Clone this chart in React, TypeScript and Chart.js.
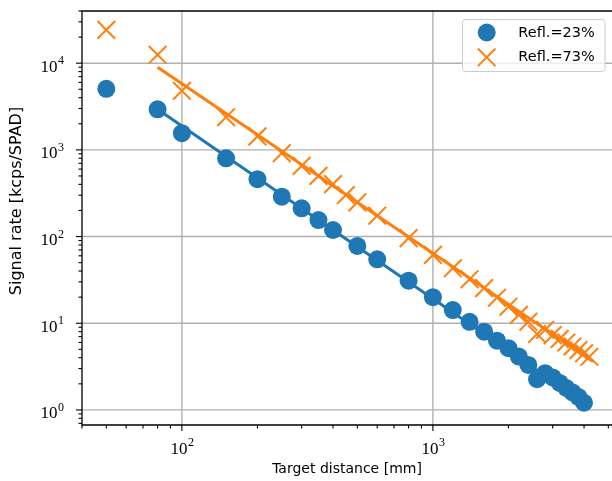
import React, { useEffect, useRef } from 'react';
import { Chart, registerables } from 'chart.js';

Chart.register(...registerables);

// ---- data ----
const blueX = [50, 80, 100, 150, 200, 250, 300, 350, 400, 500, 600, 800, 1000, 1200, 1400, 1600, 1800, 2000, 2200, 2400, 2600, 2800, 3000, 3200, 3400, 3600, 3800, 4000];
const blueY = [5060, 2940, 1560, 800, 459, 288, 212, 155, 119, 78, 54.7, 31, 20, 14.2, 10.4, 8.0, 6.3, 5.15, 4.12, 3.3, 2.26, 2.65, 2.37, 2.05, 1.79, 1.59, 1.41, 1.21];
const orangeX = [50, 80, 100, 150, 200, 250, 300, 350, 400, 450, 500, 600, 800, 1000, 1200, 1400, 1600, 1800, 2000, 2200, 2400, 2600, 2800, 3000, 3200, 3400, 3600, 3800, 4000, 4200];
const orangeY = [24200, 12500, 4800, 2380, 1430, 916, 653, 501, 403, 301, 248, 174, 96, 61.5, 43, 32.2, 25.4, 19.7, 15.5, 12.5, 10.4, 7.5, 8.4, 7.3, 6.6, 6.0, 5.4, 4.9, 4.5, 4.1];
const blueFitX = [80, 4000];
const blueFitY = [2940, 1.21];
const orangeFitX = [80, 4300];
const orangeFitY = [9000, 3.7];
const seriesLabels = ['Refl.=23%', 'Refl.=73%'];
const xTitle = 'Target distance [mm]';
const yTitle = 'Signal rate [kcps/SPAD]';
const xMajorExps = [2, 3];
const yMajorExps = [0, 1, 2, 3, 4];
const xRange = [40, 5170];
const yRange = [0.67, 40000];

const BLUE = '#1f77b4';
const ORANGE = '#ff7f0e';
const SERIF = '"Liberation Serif", "DejaVu Serif", serif';
const SANS = '"DejaVu Sans", sans-serif';

function logTicks(min: number, max: number) {
  const out: { v: number; major: boolean; e: number }[] = [];
  for (let e = Math.floor(Math.log10(min)); e <= Math.ceil(Math.log10(max)); e++) {
    for (let m = 1; m <= 9; m++) {
      const v = m * Math.pow(10, e);
      if (v >= min * 0.9999 && v <= max * 1.0001) out.push({ v, major: m === 1, e });
    }
  }
  return out;
}

const mplPlugin = {
  id: 'mplAxes',
  beforeDatasetsDraw(chart: any) {
    const { ctx, chartArea: a, scales } = chart;
    const x = scales.x, y = scales.y;
    ctx.save();
    ctx.strokeStyle = '#b0b0b0';
    ctx.lineWidth = 1.4;
    for (const e of xMajorExps) {
      const px = x.getPixelForValue(Math.pow(10, e));
      ctx.beginPath(); ctx.moveTo(px, a.top); ctx.lineTo(px, a.bottom); ctx.stroke();
    }
    for (const e of yMajorExps) {
      const py = y.getPixelForValue(Math.pow(10, e));
      ctx.beginPath(); ctx.moveTo(a.left, py); ctx.lineTo(a.right, py); ctx.stroke();
    }
    ctx.restore();
  },
  afterDraw(chart: any) {
    const { ctx, chartArea: a, scales } = chart;
    const x = scales.x, y = scales.y;
    ctx.save();
    // spines (left, top, bottom; right spine falls on the page edge)
    ctx.strokeStyle = '#000';
    ctx.lineWidth = 1.3;
    ctx.beginPath();
    ctx.moveTo(a.right + 2, a.top); ctx.lineTo(a.left, a.top); ctx.lineTo(a.left, a.bottom); ctx.lineTo(a.right + 2, a.bottom);
    ctx.stroke();
    // ticks
    ctx.lineWidth = 1.1;
    for (const t of logTicks(xRange[0], xRange[1])) {
      const px = x.getPixelForValue(t.v);
      const len = t.major ? 6 : 3.5;
      ctx.beginPath(); ctx.moveTo(px, a.bottom); ctx.lineTo(px, a.bottom + len); ctx.stroke();
    }
    for (const t of logTicks(yRange[0], yRange[1])) {
      const py = y.getPixelForValue(t.v);
      const len = t.major ? 6 : 3.5;
      ctx.beginPath(); ctx.moveTo(a.left - len, py); ctx.lineTo(a.left, py); ctx.stroke();
    }
    // tick labels 10^e
    ctx.fillStyle = '#000';
    ctx.textBaseline = 'alphabetic';
    ctx.textAlign = 'left';
    const baseFont = '17px ' + SERIF;
    const expFont = '12px ' + SERIF;
    const measure = (e: number) => {
      ctx.font = baseFont; const w1 = ctx.measureText('10').width;
      ctx.font = expFont; const w2 = ctx.measureText(String(e)).width;
      return [w1, w2];
    };
    for (const e of xMajorExps) {
      const px = x.getPixelForValue(Math.pow(10, e));
      const [w1, w2] = measure(e);
      const sx = px - (w1 + w2) / 2;
      ctx.font = baseFont; ctx.fillText('10', sx, a.bottom + 29);
      ctx.font = expFont; ctx.fillText(String(e), sx + w1 + 0.5, a.bottom + 21);
    }
    for (const e of yMajorExps) {
      const py = y.getPixelForValue(Math.pow(10, e));
      const [w1, w2] = measure(e);
      const right = a.left - 18;
      const sx = right - (w1 + w2 + 0.5);
      ctx.font = baseFont; ctx.fillText('10', sx, py + 8.5);
      ctx.font = expFont; ctx.fillText(String(e), sx + w1 + 0.5, py + 1);
    }
    // axis titles
    ctx.textAlign = 'center';
    ctx.textBaseline = 'middle';
    ctx.font = '14px ' + SANS;
    ctx.fillText(xTitle, 347, 469);
    ctx.save();
    ctx.translate(17, 201);
    ctx.rotate(-Math.PI / 2);
    ctx.font = '16px ' + SANS;
    ctx.fillText(yTitle, 0, 0);
    ctx.restore();
    // legend
    const lx = 462.5, ly = 19.5, lw = 142.5, lh = 52;
    ctx.beginPath();
    const r = 3;
    ctx.moveTo(lx + r, ly);
    ctx.arcTo(lx + lw, ly, lx + lw, ly + lh, r);
    ctx.arcTo(lx + lw, ly + lh, lx, ly + lh, r);
    ctx.arcTo(lx, ly + lh, lx, ly, r);
    ctx.arcTo(lx, ly, lx + lw, ly, r);
    ctx.closePath();
    ctx.fillStyle = 'rgba(255,255,255,0.8)';
    ctx.fill();
    ctx.strokeStyle = '#cccccc';
    ctx.lineWidth = 1;
    ctx.stroke();
    // entries
    ctx.fillStyle = BLUE;
    ctx.beginPath(); ctx.arc(486.7, 32.5, 9, 0, Math.PI * 2); ctx.fill();
    ctx.strokeStyle = ORANGE; ctx.lineWidth = 2;
    const d = 8.8;
    ctx.beginPath();
    ctx.moveTo(486.7 - d, 57.3 - d); ctx.lineTo(486.7 + d, 57.3 + d);
    ctx.moveTo(486.7 - d, 57.3 + d); ctx.lineTo(486.7 + d, 57.3 - d);
    ctx.stroke();
    ctx.fillStyle = '#000';
    ctx.textAlign = 'left';
    ctx.font = '14.5px ' + SANS;
    ctx.fillText(seriesLabels[0], 518.3, 33);
    ctx.fillText(seriesLabels[1], 518.3, 57.5);
    ctx.restore();
  },
};

export default function App() {
  const ref = useRef<HTMLCanvasElement | null>(null);
  useEffect(() => {
    if (!ref.current) return;
    const pts = (xs: number[], ys: number[]) => xs.map((v, i) => ({ x: v, y: ys[i] }));
    const chart = new Chart(ref.current, {
      type: 'scatter',
      data: {
        datasets: [
          {
            label: seriesLabels[1] + ' scatter',
            data: pts(orangeX, orangeY),
            pointStyle: 'crossRot',
            pointRadius: 12.5,
            pointHoverRadius: 12.5,
            borderColor: ORANGE,
            backgroundColor: ORANGE,
            pointBorderWidth: 2,
            showLine: false,
            order: 0,
          },
          {
            label: seriesLabels[1] + ' fit',
            data: pts(orangeFitX, orangeFitY),
            showLine: true,
            pointRadius: 0,
            borderColor: ORANGE,
            borderWidth: 3,
            order: 1,
          },
          {
            label: seriesLabels[0] + ' scatter',
            data: pts(blueX, blueY),
            pointStyle: 'circle',
            pointRadius: 9,
            pointHoverRadius: 9,
            backgroundColor: BLUE,
            borderColor: BLUE,
            pointBorderWidth: 0,
            showLine: false,
            order: 2,
          },
          {
            label: seriesLabels[0] + ' fit',
            data: pts(blueFitX, blueFitY),
            showLine: true,
            pointRadius: 0,
            borderColor: BLUE,
            borderWidth: 3,
            order: 3,
          },
        ],
      },
      options: {
        animation: false,
        responsive: false,
        devicePixelRatio: 1,
        events: [],
        clip: false,
        layout: { autoPadding: false, padding: { left: 82, top: 11, right: 0, bottom: 56 } },
        plugins: { legend: { display: false }, tooltip: { enabled: false } },
        scales: {
          x: { type: 'logarithmic', display: false, min: xRange[0], max: xRange[1] },
          y: { type: 'logarithmic', display: false, min: yRange[0], max: yRange[1] },
        },
      },
      plugins: [mplPlugin],
    } as any);
    return () => chart.destroy();
  }, []);
  return (
    <div style={{ position: 'fixed', left: 0, top: 0, width: 612, height: 481, overflow: 'hidden', background: '#fff' }}>
      <canvas ref={ref} width={612} height={481} style={{ display: 'block', width: 612, height: 481 }} />
    </div>
  );
}
